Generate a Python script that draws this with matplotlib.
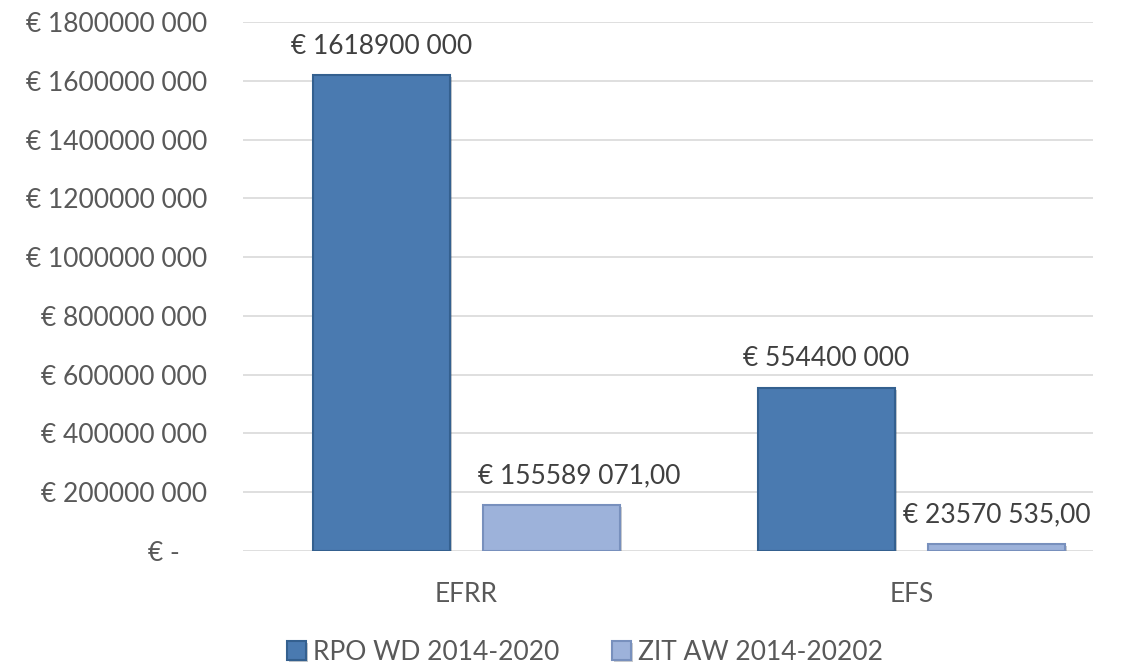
import matplotlib
matplotlib.use("Agg")
import matplotlib.pyplot as plt
from matplotlib.ticker import FuncFormatter
import matplotlib.patheffects as pe
import numpy as np

categories = ["EFRR", "EFS"]
series_names = ["RPO WD 2014-2020", "ZIT AW 2014-20202"]
rpo_values = [1618900000, 554400000]
zit_values = [155589071, 23570535]
rpo_labels = ["€ 1618900 000", "€ 554400 000"]
zit_labels = ["€ 155589 071,00", "€ 23570 535,00"]
y_ticks = [0, 200000000, 400000000, 600000000, 800000000, 1000000000,
           1200000000, 1400000000, 1600000000, 1800000000]

plt.rcParams['font.family'] = ['Lato', 'DejaVu Sans']
text_color = "#595959"
fs = 19

fig = plt.figure(figsize=(11.24, 6.69), dpi=100)
ax = fig.add_axes([243/1124, 1-551/669, 850/1124, (551-22)/669])

x = np.arange(len(categories))
w = 0.308
off = 0.191
c1, e1 = "#4A7AB0", "#34608F"
c2, e2 = "#9DB2DA", "#7890BD"
shadow = [pe.SimplePatchShadow(offset=(1.5, -1.5), alpha=0.25), pe.Normal()]
b1 = ax.bar(x - off, rpo_values, w, color=c1, edgecolor=e1, linewidth=1.5, zorder=3, label=series_names[0])
b2 = ax.bar(x + off, zit_values, w, color=c2, edgecolor=e2, linewidth=1.5, zorder=3, label=series_names[1])
for r in list(b1) + list(b2):
    r.set_path_effects(shadow)

label_dx1 = [0, 0]
label_dx2 = [20, 0]
for i, r in enumerate(b1):
    ax.annotate(rpo_labels[i], (r.get_x() + r.get_width()/2, r.get_height()),
                xytext=(label_dx1[i], 12), textcoords="offset points", ha="center", va="bottom",
                fontsize=fs, color="#404040")
for i, r in enumerate(b2):
    ax.annotate(zit_labels[i], (r.get_x() + r.get_width()/2, r.get_height()),
                xytext=(label_dx2[i], 12), textcoords="offset points", ha="center", va="bottom",
                fontsize=fs, color="#404040")

def fmt(v, pos):
    v = int(round(v))
    if v == 0:
        return "€ -    "
    return f"€ {v // 1000} {v % 1000:03d}"

ax.set_yticks(y_ticks)
ax.yaxis.set_major_formatter(FuncFormatter(fmt))
ax.set_ylim(0, 1800000000)
ax.set_xlim(-0.502, 1.408)
ax.set_xticks(x)
ax.set_xticklabels(categories)
ax.tick_params(axis="both", length=0, labelsize=fs, labelcolor=text_color)
ax.tick_params(axis="y", pad=26)
ax.tick_params(axis="x", pad=22)
ax.grid(axis="y", color="#D9D9D9", linewidth=1.2, zorder=0)
for s in ax.spines.values():
    s.set_visible(False)

leg = fig.legend(handles=[b1, b2], labels=series_names, loc="center",
                 bbox_to_anchor=(585/1124, 1-652/669), ncol=2, frameon=False,
                 fontsize=fs, handlelength=0.7, handleheight=0.7, handletextpad=0.27,
                 columnspacing=2.0)
for t in leg.get_texts():
    t.set_color(text_color)

fig.savefig("out.png", dpi=100)
